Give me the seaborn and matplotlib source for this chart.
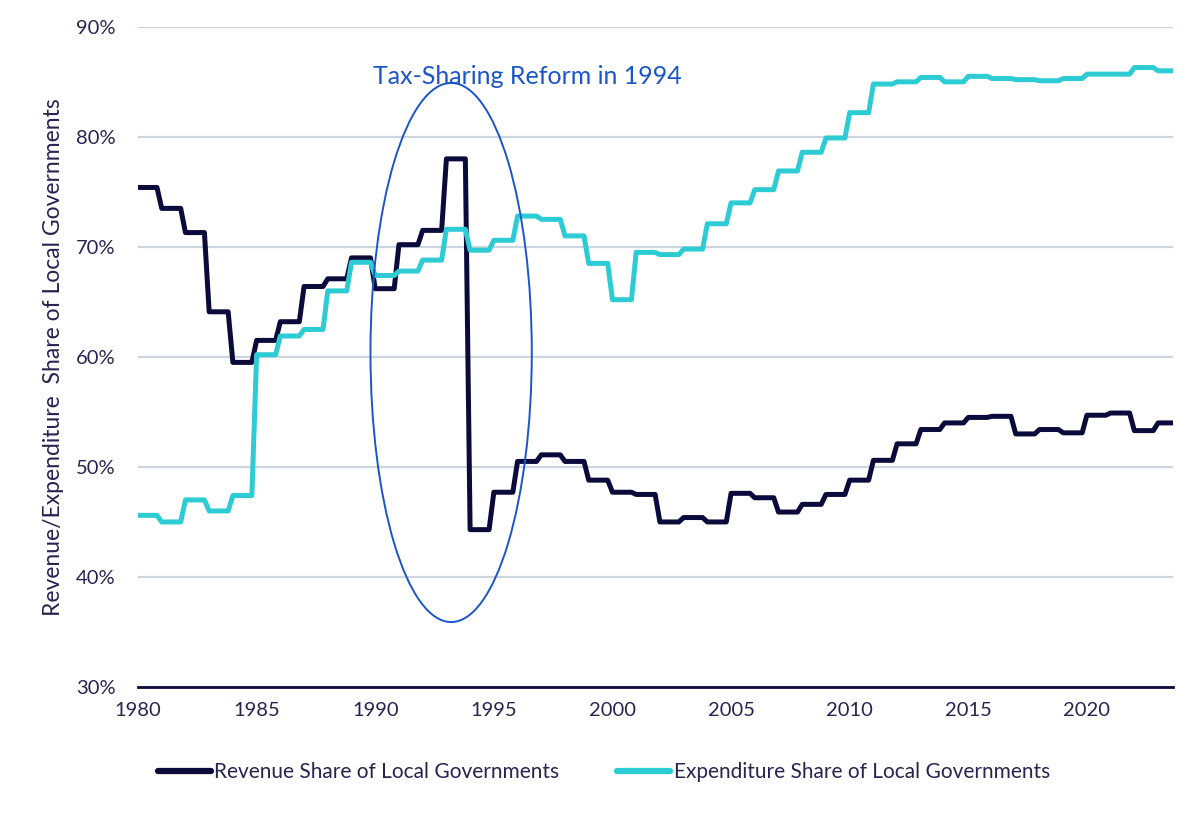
import numpy as np
import pandas as pd
import matplotlib
matplotlib.use("Agg")
import matplotlib.pyplot as plt
import seaborn as sns
from matplotlib.patches import Ellipse

years = list(range(1980, 2024))
revenue = [75.4, 73.5, 71.3, 64.1, 59.5, 61.5, 63.2, 66.4, 67.1, 69.0,
           66.2, 70.2, 71.5, 78.0, 44.3, 47.7, 50.5, 51.1, 50.5, 48.8,
           47.7, 47.5, 45.0, 45.4, 45.0, 47.6, 47.2, 45.9, 46.6, 47.5,
           48.8, 50.6, 52.1, 53.4, 54.0, 54.5, 54.6, 53.0, 53.4, 53.1,
           54.7, 54.9, 53.3, 54.0]
expenditure = [45.6, 45.0, 47.0, 46.0, 47.4, 60.2, 61.9, 62.5, 66.0, 68.6,
               67.4, 67.8, 68.8, 71.6, 69.7, 70.6, 72.8, 72.5, 71.0, 68.5,
               65.2, 69.5, 69.3, 69.8, 72.1, 74.0, 75.2, 76.9, 78.6, 79.9,
               82.2, 84.8, 85.0, 85.4, 85.0, 85.5, 85.3, 85.2, 85.1, 85.3,
               85.7, 85.7, 86.3, 86.0]
series_names = ["Revenue Share of Local Governments",
                "Expenditure Share of Local Governments"]
y_ticks = [30, 40, 50, 60, 70, 80, 90]
x_ticks = [1980, 1985, 1990, 1995, 2000, 2005, 2010, 2015, 2020]
annotation_text = "Tax-Sharing Reform in 1994"
y_label = "Revenue/Expenditure  Share of Local Governments"

# each annual value held flat over most of the year (step look)
offsets = [0.0, 0.8]
rows = []
for name, vals in zip(series_names, [revenue, expenditure]):
    for yr, v in zip(years, vals):
        for off in offsets:
            rows.append({"x": yr + off, "value": v, "series": name})
df = pd.DataFrame(rows)

sns.set_theme(style="white")
plt.rcParams["font.family"] = ["Lato", "DejaVu Sans"]

text_color = "#252550"
navy = "#0b0b3b"
cyan = "#2dcbd3"
blue = "#1a56c8"

fig = plt.figure(figsize=(12, 8.13), dpi=100)
ax = fig.add_axes([0.115, 0.155, 0.8625, 0.812])

sns.lineplot(data=df, x="x", y="value", hue="series", sort=False,
             palette={series_names[0]: navy, series_names[1]: cyan},
             linewidth=3.6, ax=ax, legend=True)

ax.set_xlim(1980, 2023.63)
ax.set_ylim(30, 90)
ax.set_yticks(y_ticks)
ax.set_yticklabels([f"{t}%" for t in y_ticks])
ax.set_xticks(x_ticks)
ax.set_xticklabels([str(t) for t in x_ticks])
ax.yaxis.grid(True, color="#cdd5df", linewidth=1.6)
ax.set_axisbelow(True)
for s in ["top", "right", "left"]:
    ax.spines[s].set_visible(False)
ax.spines["bottom"].set_color(navy)
ax.spines["bottom"].set_linewidth(2.0)
ax.spines["bottom"].set_zorder(5)
ax.tick_params(axis="x", direction="out", length=5, width=1.5, color=navy,
               pad=6, labelsize=14.5, labelcolor=text_color)
ax.tick_params(axis="y", length=0, pad=16, labelsize=14.5, labelcolor=text_color)
ax.set_xlabel("")
ax.set_ylabel(y_label, fontsize=16.5, color=text_color, labelpad=9)

ell = Ellipse((1993.2, 60.4), width=6.8, height=49.0, fill=False,
              edgecolor=blue, linewidth=1.4, zorder=6)
ax.add_patch(ell)
ax.text(1996.4, 85.5, annotation_text, ha="center", va="center",
        fontsize=18, color=blue)

leg = ax.legend(loc="center", bbox_to_anchor=(0.45, -0.129), ncol=2,
                frameon=False, fontsize=15, handlelength=2.55,
                handletextpad=0.15, columnspacing=2.8)
for txt in leg.get_texts():
    txt.set_color(text_color)
for line in leg.get_lines():
    line.set_linewidth(4.5)
    line.set_solid_capstyle("round")

fig.savefig("out.png", dpi=100)
